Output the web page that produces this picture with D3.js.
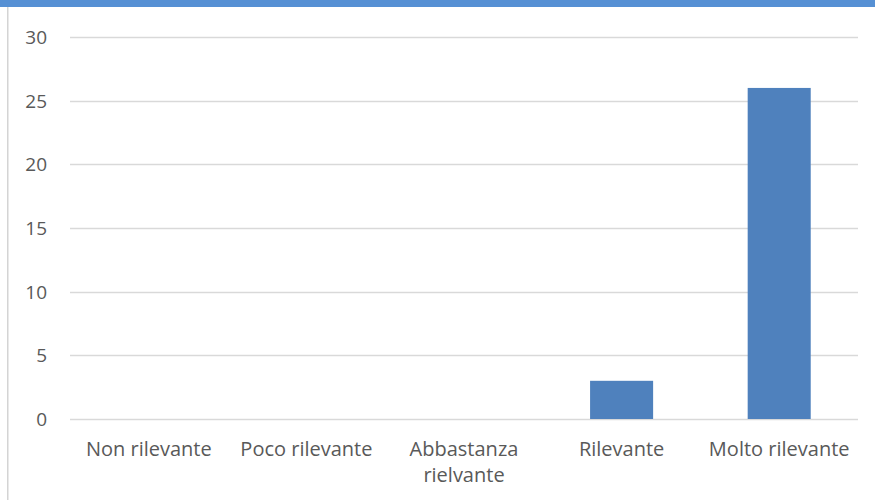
<!DOCTYPE html>
<html>
<head>
<meta charset="utf-8">
<script src="https://cdn.jsdelivr.net/npm/d3@7"></script>
<style>
  body { margin: 0; background: #fff; }
  svg { display: block; }
</style>
</head>
<body>
<div id="vis"></div>
<script>
var categories = ["Non rilevante", "Poco rilevante", "Abbastanza rielvante", "Rilevante", "Molto rilevante"];
var values = [0, 0, 0, 3, 26];
var yTicks = [0, 5, 10, 15, 20, 25, 30];

var W = 875, H = 500;
var margin = {top: 37, right: 17, bottom: 81, left: 70};
var width = W - margin.left - margin.right,
    height = H - margin.top - margin.bottom;

var svg = d3.select("#vis").append("svg")
  .attr("width", W)
  .attr("height", H);

// window frame: blue strip on top, gray edge on the left
svg.append("rect").attr("x", 0).attr("y", 0).attr("width", W).attr("height", 7).attr("fill", "#5690d4");
svg.append("rect").attr("x", 7).attr("y", 7).attr("width", 1.5).attr("height", H - 7).attr("fill", "#d4d4d4");

var g = svg.append("g")
  .attr("transform", "translate(" + margin.left + "," + margin.top + ")");

var x = d3.scaleBand()
  .domain(categories)
  .range([0, width])
  .paddingInner(0.6)
  .paddingOuter(0.3);

var y = d3.scaleLinear()
  .domain([0, 30])
  .range([height, 0]);

// gridlines
g.append("g")
  .selectAll("line")
  .data(yTicks)
  .enter().append("line")
  .attr("x1", 0)
  .attr("x2", width)
  .attr("y1", function(d) { return Math.round(y(d)) + 0.5; })
  .attr("y2", function(d) { return Math.round(y(d)) + 0.5; })
  .attr("stroke", "#d9d9d9")
  .attr("stroke-width", 1.5);

// y labels
g.append("g")
  .selectAll("text")
  .data(yTicks)
  .enter().append("text")
  .attr("x", -23)
  .attr("y", function(d) { return y(d); })
  .attr("dy", "0.36em")
  .attr("text-anchor", "end")
  .attr("font-family", "Open Sans, sans-serif")
  .attr("font-size", 19)
  .attr("fill", "#595959")
  .text(function(d) { return d; });

// bars
g.append("g")
  .selectAll("rect")
  .data(values)
  .enter().append("rect")
  .attr("x", function(d, i) { return x(categories[i]); })
  .attr("y", function(d) { return y(d); })
  .attr("width", x.bandwidth())
  .attr("height", function(d) { return height - y(d); })
  .attr("fill", "#4f81bd");

// x labels
var lab = g.append("g")
  .selectAll("text")
  .data(categories)
  .enter().append("text")
  .attr("x", function(d) { return x(d) + x.bandwidth() / 2; })
  .attr("y", height + 37)
  .attr("text-anchor", "middle")
  .attr("font-family", "Open Sans, sans-serif")
  .attr("font-size", 20)
  .attr("fill", "#595959")
  .call(wrap, x.step() - 4);

function wrap(text, w) {
  text.each(function(d) {
    var t = d3.select(this),
        words = d.split(/\s+/).reverse(),
        word, line = [], n = 0,
        cx = t.attr("x"),
        ts = t.append("tspan").attr("x", cx).attr("dy", 0);
    while (word = words.pop()) {
      line.push(word);
      ts.text(line.join(" "));
      if (ts.node().getComputedTextLength() > w && line.length > 1) {
        line.pop();
        ts.text(line.join(" "));
        line = [word];
        ts = t.append("tspan").attr("x", cx).attr("dy", 26).text(word);
      }
    }
  });
}
</script>
</body>
</html>
